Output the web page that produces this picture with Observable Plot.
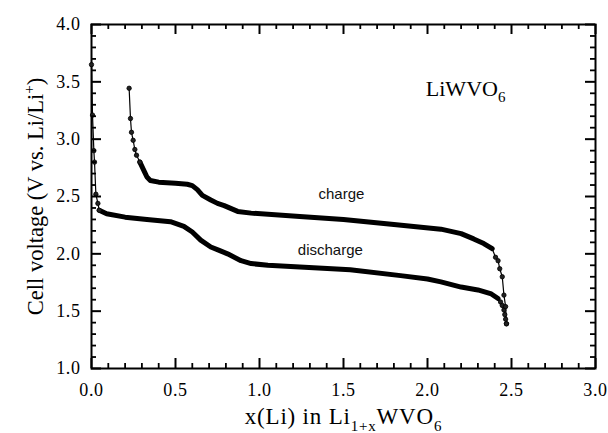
<!DOCTYPE html>
<html><head><meta charset="utf-8">
<script src="https://cdn.jsdelivr.net/npm/d3@7"></script>
<script src="https://cdn.jsdelivr.net/npm/@observablehq/plot@0.6"></script>
<style>
html,body{margin:0;padding:0;background:#fff;}
</style></head><body><div id="chart"></div>
<script>
// ---- data ----
const xMajorTicks = [0, 0.5, 1, 1.5, 2, 2.5, 3];
const yMajorTicks = [1, 1.5, 2, 2.5, 3, 3.5, 4];
const xMinorTicks = [0.1,0.2,0.3,0.4,0.6,0.7,0.8,0.9,1.1,1.2,1.3,1.4,1.6,1.7,1.8,1.9,2.1,2.2,2.3,2.4,2.6,2.7,2.8,2.9];
const yMinorTicks = [1.1,1.2,1.3,1.4,1.6,1.7,1.8,1.9,2.1,2.2,2.3,2.4,2.6,2.7,2.8,2.9,3.1,3.2,3.3,3.4,3.6,3.7,3.8,3.9];

// discharge: steep start (sparse markers), dense body, steep end
const dischargeStart = [[0,3.65],[0.006,3.21],[0.014,2.90],[0.018,2.80],[0.026,2.52],[0.038,2.44],[0.046,2.38]];
const dischargeBody = [[0.046,2.38],[0.09,2.35],[0.2,2.32],[0.33,2.30],[0.47,2.28],[0.55,2.24],[0.60,2.19],[0.65,2.12],[0.71,2.06],[0.76,2.03],[0.81,2.00],[0.89,1.94],[0.95,1.915],[1.05,1.90],[1.24,1.885],[1.54,1.862],[1.84,1.81],[2.0,1.78],[2.08,1.755],[2.2,1.71],[2.3,1.685],[2.38,1.65],[2.42,1.61]];
const dischargeEnd = [[2.435,1.58],[2.445,1.55],[2.455,1.51],[2.46,1.47],[2.465,1.43],[2.47,1.39]];

// charge
const chargeStart = [[0.224,3.444],[0.232,3.18],[0.238,3.06],[0.248,2.99],[0.258,2.91],[0.268,2.86],[0.288,2.80]];
const chargeBody = [[0.288,2.80],[0.317,2.71],[0.33,2.67],[0.35,2.64],[0.40,2.625],[0.50,2.615],[0.57,2.607],[0.60,2.595],[0.63,2.56],[0.66,2.51],[0.71,2.47],[0.75,2.44],[0.79,2.42],[0.87,2.37],[0.95,2.355],[1.24,2.325],[1.50,2.30],[1.80,2.255],[2.08,2.215],[2.20,2.176],[2.275,2.13],[2.335,2.09],[2.385,2.045]];
const chargeEnd = [[2.405,1.97],[2.42,1.94],[2.43,1.87],[2.445,1.80],[2.455,1.64],[2.465,1.54],[2.47,1.39]];

const annotations = [
  {x: 1.351, y: 2.517, label: "charge"},
  {x: 1.228, y: 2.029, label: "discharge"}
];
const compoundLabel = {x: 1.99, y: 3.44, label: "LiWVO6"};
const xTitle = "x(Li) in Li1+xWVO6";
const yTitle = "Cell voltage (V vs. Li/Li+)";

// ---- build ----
const W = 608, H = 433, ML = 91, MR = 13, MT = 24, MB = 65;
const FW = W - ML - MR, FH = H - MT - MB;
const pts = a => a.map(([x, y]) => ({x, y}));
const dischargeAll = pts([...dischargeStart, ...dischargeBody, ...dischargeEnd]);
const chargeAll = pts([...chargeStart, ...chargeBody, ...chargeEnd]);
const markers = pts([...dischargeStart, ...dischargeEnd, ...chargeStart, ...chargeEnd]);

const serif = "Liberation Serif";
const sans = "Liberation Sans";

// inward ticks on all four sides: tick marks inset down to a short length
function inwardTicks(xs, ys, len, sw) {
  return [
    Plot.tickX(xs, {x: d => d, insetTop: FH - len, stroke: "black", strokeWidth: sw}),
    Plot.tickX(xs, {x: d => d, insetBottom: FH - len, stroke: "black", strokeWidth: sw}),
    Plot.tickY(ys, {y: d => d, insetRight: FW - len, stroke: "black", strokeWidth: sw}),
    Plot.tickY(ys, {y: d => d, insetLeft: FW - len, stroke: "black", strokeWidth: sw})
  ];
}

const chart = Plot.plot({
  width: W, height: H,
  marginLeft: ML, marginRight: MR, marginTop: MT, marginBottom: MB,
  x: {domain: [0, 3], label: null},
  y: {domain: [1, 4], label: null},
  style: {fontFamily: serif, fontSize: "18px", background: "white", color: "black"},
  marks: [
    Plot.frame({stroke: "black", strokeWidth: 2, fill: "none"}),
    // curves
    Plot.line(dischargeAll, {x: "x", y: "y", stroke: "black", strokeWidth: 1.2}),
    Plot.line(chargeAll, {x: "x", y: "y", stroke: "black", strokeWidth: 1.2}),
    Plot.line(pts(dischargeBody), {x: "x", y: "y", stroke: "black", strokeWidth: 5, strokeLinecap: "round", strokeLinejoin: "round"}),
    Plot.line(pts(chargeBody), {x: "x", y: "y", stroke: "black", strokeWidth: 5, strokeLinecap: "round", strokeLinejoin: "round"}),
    Plot.dot(markers, {x: "x", y: "y", r: 2.2, fill: "#222", stroke: "black", strokeWidth: 0.8}),
    // ticks
    ...inwardTicks(xMinorTicks, yMinorTicks, 5, 1.8),
    ...inwardTicks(xMajorTicks, yMajorTicks, 10, 2),
    // tick labels
    Plot.axisX(xMajorTicks, {anchor: "bottom", tickSize: 0, tickPadding: 15, tickFormat: d3.format(".1f"), label: null, fontSize: 18, fontFamily: serif, fontVariant: "normal", fill: "black"}),
    Plot.axisY(yMajorTicks, {anchor: "left", tickSize: 0, tickPadding: 11, tickFormat: d3.format(".1f"), label: null, fontSize: 18, fontFamily: serif, fontVariant: "normal", fill: "black"}),
    // annotations
    Plot.text(annotations, {x: "x", y: "y", text: "label", textAnchor: "start", lineAnchor: "middle", fontFamily: sans, fontSize: 15, fill: "#111"}),
    Plot.text([compoundLabel], {x: "x", y: "y", text: "label", textAnchor: "start", lineAnchor: "middle", fontFamily: serif, fontSize: 22, fill: "black"}),
    // axis titles
    Plot.text([xTitle], {text: d => d, frameAnchor: "bottom", dy: 47.7, lineAnchor: "middle", textAnchor: "middle", fontFamily: serif, fontSize: 23, fill: "black"}),
    Plot.text([yTitle], {text: d => d, frameAnchor: "left", dx: -55.4, rotate: -90, lineAnchor: "middle", textAnchor: "middle", fontFamily: serif, fontSize: 22.5, fill: "black"})
  ]
});

// rich text (sub/superscripts)
const svg = d3.select(chart);
function rich(str, html, spacing) {
  svg.selectAll("text").filter(function() { return this.textContent === str; }).each(function() {
    this.innerHTML = html;
    if (spacing) this.setAttribute("letter-spacing", spacing);
  });
}
rich(xTitle, 'x(Li) in Li<tspan font-size="15" dy="7">1+x</tspan><tspan dy="-7">WVO</tspan><tspan font-size="15" dy="7">6</tspan>', "0.8");
rich(yTitle, 'Cell voltage (V vs. Li/Li<tspan font-size="15" dy="-9">+</tspan><tspan dy="9">)</tspan>');
rich(compoundLabel.label, 'LiWVO<tspan font-size="15" dy="6">6</tspan>');
svg.selectAll('g[aria-label="x-axis tick label"] text, g[aria-label="y-axis tick label"] text').attr("letter-spacing", "0.6");

document.getElementById("chart").appendChild(chart);
</script>
</body></html>
